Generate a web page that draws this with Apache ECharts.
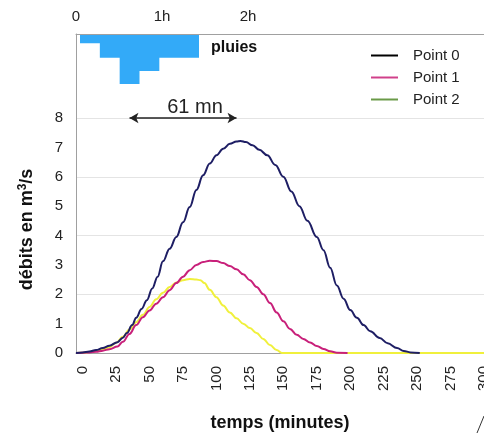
<!DOCTYPE html>
<html>
<head>
<meta charset="utf-8">
<script src="https://cdn.jsdelivr.net/npm/echarts@6/dist/echarts.min.js"></script>
<style>html,body{margin:0;padding:0;background:#fff}#c{width:484px;height:433px}</style>
</head>
<body>
<div id="c"></div>
<script>
// ---- data ----
const seriesNames = ['Point 0', 'Point 1', 'Point 2'];
const time0 = [-5,0,5,10,15,20,26,30,33,37,40,44,48,52,56,60,65,70,75,80,85,90,95,100,105,110,115,118,122,127,132,138,144,150,156,162,168,175,180,185,190,195,200,205,210,215,222,228,235,240,245,252];
const flow0 = [0,0.02,0.05,0.1,0.17,0.25,0.37,0.52,0.68,0.95,1.2,1.5,1.8,2.2,2.6,3.12,3.55,3.95,4.45,4.97,5.55,6.05,6.45,6.73,6.95,7.12,7.2,7.22,7.18,7.07,6.92,6.73,6.4,6.0,5.5,5.0,4.5,3.95,3.5,2.9,2.3,1.85,1.46,1.2,0.95,0.74,0.51,0.33,0.17,0.07,0.02,0];
const time1 = [-5,0,5,10,15,20,26,30,35,40,45,50,55,60,65,70,75,80,85,90,95,100,105,110,115,120,125,130,135,140,145,150,155,160,165,170,175,180,185,190,198];
const flow1 = [0,0.01,0.02,0.04,0.08,0.13,0.22,0.38,0.65,0.95,1.22,1.45,1.68,1.9,2.14,2.38,2.6,2.82,3.0,3.1,3.14,3.13,3.06,2.96,2.85,2.68,2.48,2.25,2.0,1.7,1.38,1.08,0.82,0.62,0.48,0.36,0.24,0.14,0.06,0.01,0];
const time2 = [-5,0,5,10,15,20,25,30,35,40,45,50,55,60,65,70,75,80,85,88,91,95,100,105,110,115,120,125,130,135,140,145,149,300];
const flow2 = [0,0.01,0.03,0.07,0.12,0.2,0.35,0.55,0.8,1.05,1.3,1.57,1.83,2.05,2.25,2.4,2.48,2.52,2.5,2.48,2.38,2.15,1.9,1.62,1.38,1.18,1.0,0.85,0.68,0.48,0.27,0.1,0,0];
const xTicks = [0,25,50,75,100,125,150,175,200,225,250,275,300];
const yTicks = [0,1,2,3,4,5,6,7,8];
const rainSteps = ['1','2','3','4','5','6','end'];
const rainValues = [10,28,60,44,28,28,28];
const hourTicks = [0,60,120];
const hourLabels = ['0','1h','2h'];
const lagFrom = 35, lagTo = 115, lagLevel = 8, lagText = '61 mn';

const zip = (a, b) => a.map((v, i) => [v, b[i]]);
const lineColors = ['#1e1e64', '#c8207a', '#f0f03c'];
const legendColors = ['#000000', '#d0408a', '#6a9a48'];
const FONT = 'Liberation Sans, Arial, sans-serif';
const AXIS_GRAY = '#a0a0a0';
const RAIN = '#33aaf8';

const chart = echarts.init(document.getElementById('c'), null, {renderer: 'canvas'});
const option = {
  animation: false,
  textStyle: {fontFamily: FONT},
  grid: [
    {left: 76, top: 118, right: 0, bottom: 80, outerBoundsMode: 'none', containLabel: false},
    {left: 76, top: 34, right: 0, height: 84, outerBoundsMode: 'none', containLabel: false},
    {left: 80, top: 35, width: 119, height: 49, outerBoundsMode: 'none', containLabel: false}
  ],
  legend: {
    orient: 'vertical', left: 371, top: 48, padding: 0, icon: 'rect', itemWidth: 27, itemHeight: 2, itemGap: 7,
    textStyle: {fontSize: 15, color: '#222', fontFamily: FONT, padding: [0, 0, 0, 10]},
    data: seriesNames.map((n, i) => ({name: n, itemStyle: {color: legendColors[i]}}))
  },
  xAxis: [
    {
      gridIndex: 0, type: 'value', min: -5, max: 300,
      axisLine: {show: true, onZero: false, lineStyle: {color: AXIS_GRAY, width: 1}},
      axisTick: {show: false}, splitLine: {show: false},
      axisLabel: {customValues: xTicks, rotate: 90, margin: 13, fontSize: 15, color: '#222', fontFamily: FONT},
      name: 'temps (minutes)', nameLocation: 'middle', nameGap: 61,
      nameTextStyle: {fontSize: 18, fontWeight: 'bold', color: '#111', fontFamily: FONT}
    },
    {
      gridIndex: 1, type: 'value', position: 'top', min: 0, max: 408 / 86 * 60,
      axisLine: {show: true, onZero: false, lineStyle: {color: AXIS_GRAY, width: 1}},
      axisTick: {show: false}, splitLine: {show: false},
      axisLabel: {customValues: hourTicks, margin: 10, fontSize: 15, color: '#222', fontFamily: FONT,
        formatter: v => hourLabels[hourTicks.indexOf(v)] ?? ''}
    },
    {
      gridIndex: 2, type: 'category', data: rainSteps, show: false, boundaryGap: false
    }
  ],
  yAxis: [
    {
      gridIndex: 0, type: 'value', min: 0, max: 8, interval: 1,
      axisLine: {show: true, onZero: false, lineStyle: {color: AXIS_GRAY, width: 1}},
      axisTick: {show: false}, splitLine: {show: false},
      axisLabel: {margin: 13, fontSize: 15, color: '#222', fontFamily: FONT, formatter: v => yTicks.includes(v) ? String(v) : ''},
      name: 'débits en m{sup|3}/s', nameLocation: 'middle', nameRotate: 90, nameGap: 38,
      nameTextStyle: {fontSize: 18, fontWeight: 'bold', color: '#111', fontFamily: FONT, padding: [0, 0, 0, 12],
        rich: {sup: {fontSize: 12, fontWeight: 'bold', color: '#111', fontFamily: FONT, padding: [0, 0, 9, 0]}}}
    },
    {
      gridIndex: 0, type: 'value', min: 0, max: 8, interval: 2, position: 'left',
      axisLine: {show: false}, axisTick: {show: false}, axisLabel: {show: false},
      splitLine: {show: true, lineStyle: {color: '#e4e4e4', width: 1}}
    },
    {
      gridIndex: 1, type: 'value', min: 0, max: 1,
      axisLine: {show: true, onZero: false, lineStyle: {color: AXIS_GRAY, width: 1}},
      axisTick: {show: false}, axisLabel: {show: false}, splitLine: {show: false}
    },
    {
      gridIndex: 2, type: 'value', min: 0, max: 60, inverse: true, show: false
    }
  ],
  series: [
    {
      name: 'pluies', type: 'line', step: 'end', xAxisIndex: 2, yAxisIndex: 3, data: rainValues,
      showSymbol: false, symbol: 'none', silent: true,
      lineStyle: {width: 0, color: RAIN}, areaStyle: {color: RAIN, opacity: 1}
    },
    ...[[time0, flow0], [time1, flow1], [time2, flow2]].map(([t, f], i) => ({
      name: seriesNames[i], type: 'line', xAxisIndex: 0, yAxisIndex: 0,
      data: zip(t, f), showSymbol: false, symbol: 'none', smooth: 0.4, smoothMonotone: 'x',
      lineStyle: {color: lineColors[i], width: 2}, itemStyle: {color: lineColors[i]},
      z: 3 + (2 - i),
      markLine: i === 0 ? {
        silent: true, symbol: ['arrow', 'arrow'], symbolSize: [8, 9],
        lineStyle: {color: '#222', width: 1.5, type: 'solid'},
        label: {show: true, position: 'middle', formatter: lagText, fontSize: 20, color: '#222', fontFamily: FONT,
          distance: 1, padding: [0, 0, 0, 24]},
        data: [[{coord: [lagFrom, lagLevel]}, {coord: [lagTo, lagLevel]}]]
      } : undefined
    }))
  ],
  graphic: [
    {type: 'text', left: 211, top: 40, style: {text: 'pluies', fontSize: 16, fontWeight: 'bold', fill: '#111', fontFamily: FONT}},
    {type: 'line', shape: {x1: 484, y1: 416, x2: 477, y2: 433}, style: {stroke: '#333', lineWidth: 1}}
  ]
};
chart.setOption(option);
</script>
</body>
</html>
